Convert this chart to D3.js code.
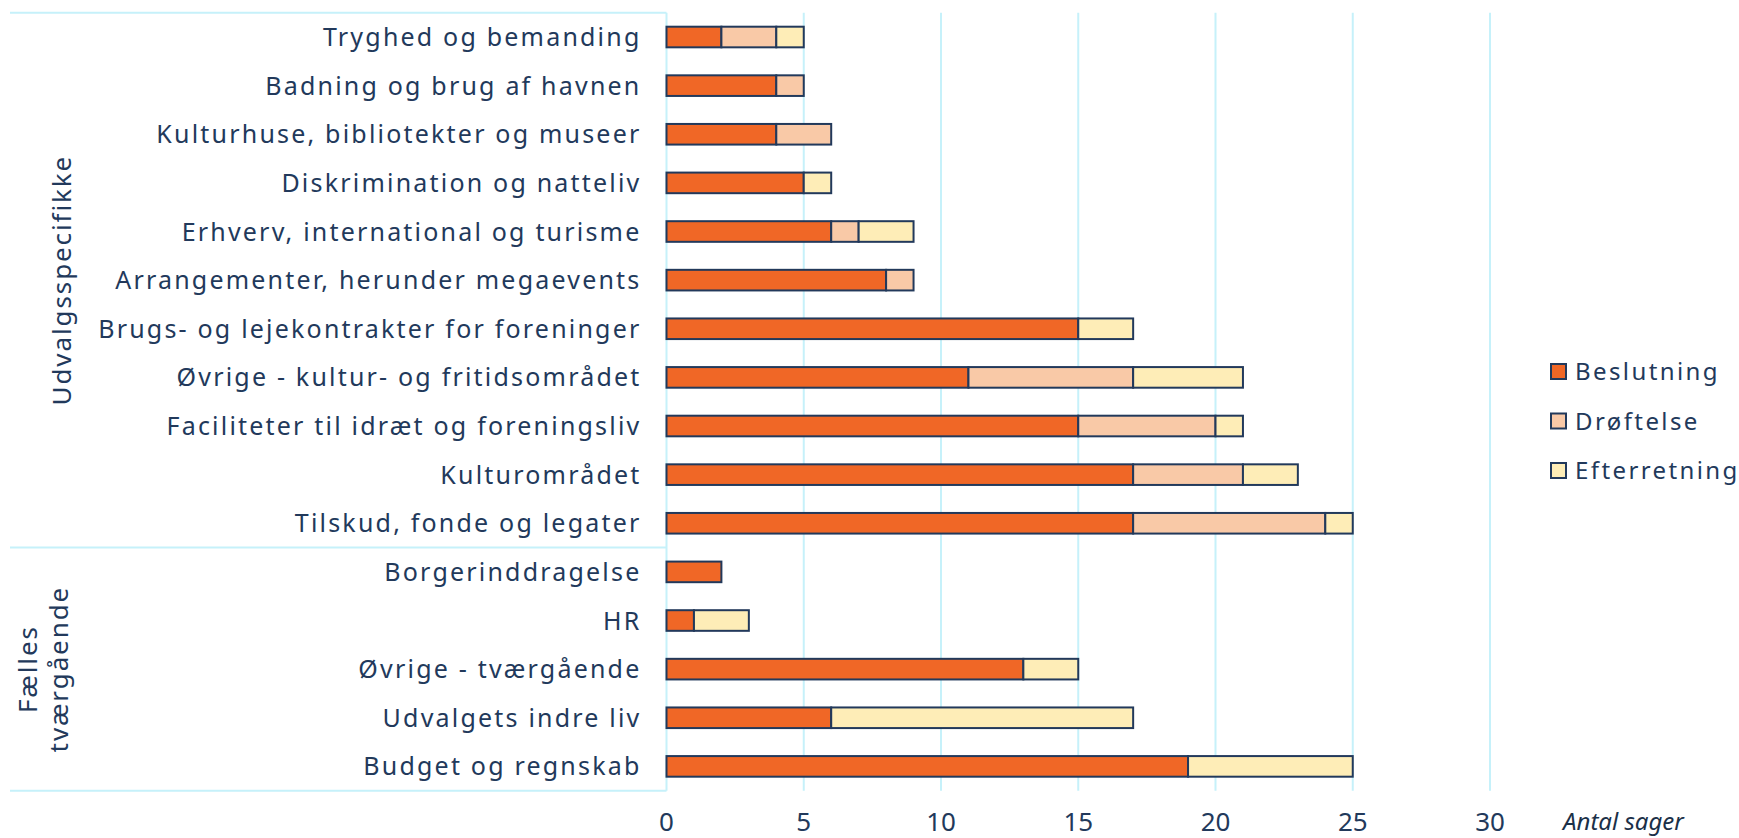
<!DOCTYPE html>
<html>
<head>
<meta charset="utf-8">
<script src="https://cdnjs.cloudflare.com/ajax/libs/d3/7.8.5/d3.min.js"></script>
<style>
  body { margin: 0; background: white; }
  text { font-family: "Noto Sans", sans-serif; fill: #22395b; }
</style>
</head>
<body>
<script>
// data
var categories = ["Tryghed og bemanding", "Badning og brug af havnen", "Kulturhuse, bibliotekter og museer",
                  "Diskrimination og natteliv", "Erhverv, international og turisme", "Arrangementer, herunder megaevents",
                  "Brugs- og lejekontrakter for foreninger", "Øvrige - kultur- og fritidsområdet",
                  "Faciliteter til idræt og foreningsliv", "Kulturområdet", "Tilskud, fonde og legater",
                  "Borgerinddragelse", "HR", "Øvrige - tværgående", "Udvalgets indre liv", "Budget og regnskab"];
var beslutning   = [2, 4, 4, 5, 6, 8, 15, 11, 15, 17, 17, 2, 1, 13, 6, 19];
var droeftelse   = [2, 1, 2, 0, 1, 1, 0, 6, 5, 4, 7, 0, 0, 0, 0, 0];
var efterretning = [1, 0, 0, 1, 2, 0, 2, 4, 1, 2, 1, 0, 2, 2, 11, 6];
var seriesNames = ["Beslutning", "Drøftelse", "Efterretning"];
var seriesColors = ["#f06726", "#f9c9a7", "#feedb7"];
var groups = [{name: ["Udvalgsspecifikke"], first: 0, last: 10},
              {name: ["Fælles", "tværgående"], first: 11, last: 15}];
var xTicks = [0, 5, 10, 15, 20, 25, 30];
var xTitle = "Antal sager";

var screen = {width: 1739, height: 838};
var plot = {left: 666.5, right: 1490, top: 12.7, bottom: 790.7};
var boxLeft = 10;
var ink = "#22395b";
var cyan = "#c6f1fa";

var svg = d3.select("body")
            .append("svg")
            .attr("width", screen.width)
            .attr("height", screen.height);

var x = d3.scaleLinear()
          .domain([0, 30])
          .range([plot.left, plot.right]);

var y = d3.scaleBand()
          .domain(categories)
          .range([plot.top, plot.bottom])
          .paddingInner(0.576)
          .paddingOuter(0.288);

var step = y.step();

//gridlines
svg.append("g")
   .selectAll("line")
   .data(xTicks.slice(1))
   .enter()
   .append("line")
   .attr("x1", function(d) {return x(d);})
   .attr("x2", function(d) {return x(d);})
   .attr("y1", plot.top)
   .attr("y2", plot.bottom)
   .attr("stroke", cyan)
   .attr("stroke-width", 2);

//category box: top line + one line under each group
var edges = [plot.top].concat(groups.map(function(g) {
  return plot.top + step * (g.last + 1);
}));

svg.append("g")
   .selectAll("line")
   .data(edges)
   .enter()
   .append("line")
   .attr("x1", boxLeft)
   .attr("x2", plot.left)
   .attr("y1", function(d) {return d;})
   .attr("y2", function(d) {return d;})
   .attr("stroke", cyan)
   .attr("stroke-width", 2);

svg.append("line")
   .attr("x1", plot.left)
   .attr("x2", plot.left)
   .attr("y1", plot.top)
   .attr("y2", plot.bottom)
   .attr("stroke", cyan)
   .attr("stroke-width", 2);

//stacked bars
var rows = categories.map(function(c, i) {
  return {cat: c, "Beslutning": beslutning[i], "Drøftelse": droeftelse[i], "Efterretning": efterretning[i]};
});

var stack = d3.stack().keys(seriesNames);
var layers = stack(rows);

var layer = svg.append("g")
               .selectAll("g")
               .data(layers)
               .enter()
               .append("g")
               .attr("fill", function(d, i) {return seriesColors[i];});

layer.selectAll("rect")
     .data(function(d) {return d.filter(function(p) {return p[1] - p[0] > 0;});})
     .enter()
     .append("rect")
     .attr("x", function(d) {return x(d[0]);})
     .attr("y", function(d) {return y(d.data.cat);})
     .attr("width", function(d) {return x(d[1]) - x(d[0]);})
     .attr("height", y.bandwidth())
     .attr("stroke", ink)
     .attr("stroke-width", 2);

//category labels
svg.append("g")
   .selectAll("text")
   .data(categories)
   .enter()
   .append("text")
   .attr("x", plot.left - 25)
   .attr("y", function(d) {return y(d) + y.bandwidth() / 2 + 9;})
   .attr("text-anchor", "end")
   .attr("font-size", 25)
   .attr("letter-spacing", 2.2)
   .text(function(d) {return d;});

//group labels (rotated)
groups.forEach(function(g) {
  var cy = plot.top + step * (g.first + (g.last + 1)) / 2;
  var n = g.name.length;
  var label = svg.append("text")
                 .attr("transform", "translate(" + (n == 1 ? 71 : 37) + "," + cy + ") rotate(-90)")
                 .attr("text-anchor", "middle")
                 .attr("font-size", 26)
                 .attr("letter-spacing", 1.9);
  g.name.forEach(function(line, j) {
    label.append("tspan")
         .attr("x", 0)
         .attr("dy", j == 0 ? 0 : 31)
         .text(line);
  });
});

//x tick labels
svg.append("g")
   .selectAll("text")
   .data(xTicks)
   .enter()
   .append("text")
   .attr("x", function(d) {return x(d);})
   .attr("y", 831)
   .attr("text-anchor", "middle")
   .attr("font-size", 26)
   .text(function(d) {return d;});

svg.append("text")
   .attr("x", 1563)
   .attr("y", 830)
   .attr("font-size", 24)
   .attr("font-style", "italic")
   .style("fill", "#1b3048")
   .text(xTitle);

//legend
var legend = svg.append("g")
                .selectAll("g")
                .data(seriesNames)
                .enter()
                .append("g")
                .attr("transform", function(d, i) {return "translate(1551," + (364 + i * 49.5) + ")";});

legend.append("rect")
      .attr("width", 15)
      .attr("height", 15)
      .attr("fill", function(d, i) {return seriesColors[i];})
      .attr("stroke", ink)
      .attr("stroke-width", 2);

legend.append("text")
      .attr("x", 24)
      .attr("y", 16)
      .attr("font-size", 24)
      .attr("letter-spacing", 2.4)
      .text(function(d) {return d;});
</script>
</body>
</html>
